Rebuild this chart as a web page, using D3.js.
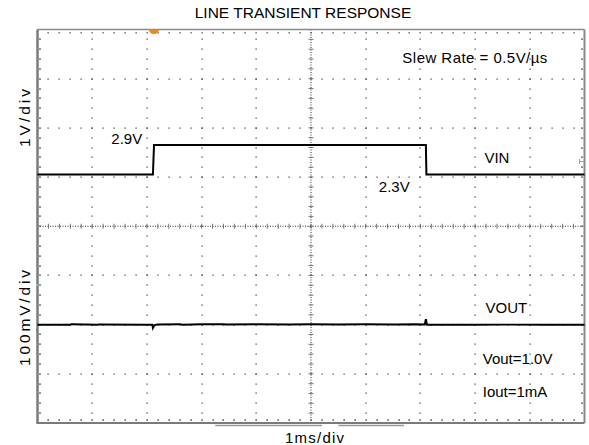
<!DOCTYPE html>
<html>
<head>
<meta charset="utf-8">
<script src="https://cdn.jsdelivr.net/npm/d3@7"></script>
<style>
  body { margin: 0; background: #fff; }
  text { font-family: "Liberation Sans", Arial, sans-serif; fill: #000; }
</style>
</head>
<body>
<script>
// waveform data (time in ms, 1ms/div, 10 divisions)
var vinTime = [0, 2.11, 2.13, 7.10, 7.11, 10];
var vinVolts = [2.3, 2.3, 2.9, 2.9, 2.3, 2.3];

var voutTime = [0, 0.6, 0.62, 1.1, 1.12, 2.0, 2.1, 2.11, 2.14, 2.2, 2.6, 2.65, 3.0, 3.4, 3.45, 4.0, 4.6, 5.0, 5.5, 6.0, 6.5, 6.9, 7.08, 7.1, 7.12, 7.2, 8.0, 8.5, 9.3, 10];
var voutVolts = [1.0, 1.0, 1.001, 1.0, 1.0005, 1.0, 1.0, 0.993, 0.999, 1.0005, 1.001, 1.0, 1.001, 1.001, 1.0005, 1.001, 1.0005, 1.001, 1.0005, 1.001, 1.0005, 1.001, 1.0005, 1.011, 1.0, 1.0, 0.9995, 1.0, 1.0, 1.0];

var labels = [
  { text: '2.9V', t: 1.35, y: 144 },
  { text: '2.3V', t: 6.24, y: 191.7 },
  { text: 'VIN', t: 8.17, y: 162.7 },
  { text: 'Slew Rate = 0.5V/µs', t: 6.67, y: 63, len: 145 },
  { text: 'VOUT', t: 8.19, y: 313.3 },
  { text: 'Vout=1.0V', t: 8.14, y: 364.3 },
  { text: 'Iout=1mA', t: 8.14, y: 397.3 }
];

var width = 589, height = 445;
var pLeft = 37.5, pRight = 584.5, pTop = 29.5, pBottom = 423;
var xDivs = 10, yDivs = 8, sub = 5;

var svg = d3.select('body').append('svg')
  .attr('width', width)
  .attr('height', height);

var x = d3.scaleLinear().domain([0, 10]).range([pLeft, pRight]);
var yVin = d3.scaleLinear().domain([-2.75, 5.25]).range([pBottom, pTop]);
var yVout = d3.scaleLinear().domain([0.8, 1.6]).range([pBottom, pTop]);
var gx = d3.scaleLinear().domain([0, xDivs]).range([pLeft, pRight]);
var gy = d3.scaleLinear().domain([0, yDivs]).range([pTop, pBottom]);

var grid = svg.append('g');

// dotted graticule: one dot per subdivision
d3.range(1, xDivs).filter(function(i) { return i !== 5; }).forEach(function(i) {
  grid.selectAll(null).data(d3.range(1, yDivs * sub)).enter().append('rect')
    .attr('x', Math.round(gx(i)) - 0.5).attr('y', function(d) { return Math.round(gy(d / sub)) - 0.5; })
    .attr('width', 1.2).attr('height', 1.2).attr('fill', '#333');
});
d3.range(1, yDivs).filter(function(j) { return j !== 4; }).forEach(function(j) {
  grid.selectAll(null).data(d3.range(1, xDivs * sub)).enter().append('rect')
    .attr('x', function(d) { return Math.round(gx(d / sub)) - 0.5; }).attr('y', Math.round(gy(j)) - 0.5)
    .attr('width', 1.2).attr('height', 1.2).attr('fill', '#333');
});

// center cross with ticks
grid.append('line')
  .attr('x1', pLeft).attr('x2', pRight).attr('y1', gy(4)).attr('y2', gy(4))
  .attr('stroke', '#333').attr('stroke-width', 1).attr('stroke-dasharray', '1,1.5');
grid.append('line')
  .attr('x1', gx(5)).attr('x2', gx(5)).attr('y1', pTop).attr('y2', pBottom)
  .attr('stroke', '#333').attr('stroke-width', 1).attr('stroke-dasharray', '1,1.5');
grid.selectAll(null).data(d3.range(1, xDivs * sub)).enter().append('line')
  .attr('x1', function(d) { return gx(d / sub); }).attr('x2', function(d) { return gx(d / sub); })
  .attr('y1', gy(4) - 2.5).attr('y2', gy(4) + 2.5)
  .attr('stroke', '#555').attr('stroke-width', 0.8);
grid.selectAll(null).data(d3.range(1, yDivs * sub)).enter().append('line')
  .attr('y1', function(d) { return gy(d / sub); }).attr('y2', function(d) { return gy(d / sub); })
  .attr('x1', gx(5) - 2.5).attr('x2', gx(5) + 2.5)
  .attr('stroke', '#555').attr('stroke-width', 0.8);

// border ticks
grid.selectAll(null).data(d3.range(1, xDivs * sub)).enter().append('rect')
  .attr('x', function(d) { return Math.round(gx(d / sub)) - 0.5; }).attr('y', pTop + 2.5)
  .attr('width', 1.2).attr('height', 1.5).attr('fill', '#555');
grid.selectAll(null).data(d3.range(1, xDivs * sub)).enter().append('rect')
  .attr('x', function(d) { return Math.round(gx(d / sub)) - 0.5; }).attr('y', pBottom - 4)
  .attr('width', 1.2).attr('height', 2).attr('fill', '#555');
grid.selectAll(null).data(d3.range(1, yDivs * sub)).enter().append('rect')
  .attr('x', pLeft + 1.5).attr('y', function(d) { return Math.round(gy(d / sub)) - 0.5; })
  .attr('width', 2).attr('height', 1.2).attr('fill', '#555');
grid.selectAll(null).data(d3.range(1, yDivs * sub)).enter().append('rect')
  .attr('x', pRight - 3.5).attr('y', function(d) { return Math.round(gy(d / sub)) - 0.5; })
  .attr('width', 2).attr('height', 1.2).attr('fill', '#555');

// frame
svg.append('line').attr('x1', pLeft).attr('x2', pRight).attr('y1', pTop).attr('y2', pTop)
  .attr('stroke', '#8a8a8a').attr('stroke-width', 1.5);
svg.append('line').attr('x1', pRight).attr('x2', pRight).attr('y1', pTop).attr('y2', pBottom)
  .attr('stroke', '#8a8a8a').attr('stroke-width', 2);
svg.append('line').attr('x1', pLeft).attr('x2', pLeft).attr('y1', pTop).attr('y2', pBottom + 1)
  .attr('stroke', '#7a7a7a').attr('stroke-width', 2.5);
svg.append('line').attr('x1', pLeft).attr('x2', pRight).attr('y1', pBottom).attr('y2', pBottom)
  .attr('stroke', '#7a7a7a').attr('stroke-width', 2);

// position bar under the frame
[[3.25, 5.2], [5.5, 6.7]].forEach(function(seg) {
  svg.append('line').attr('x1', x(seg[0])).attr('x2', x(seg[1]))
    .attr('y1', pBottom + 2.5).attr('y2', pBottom + 2.5)
    .attr('stroke', '#9a9a9a').attr('stroke-width', 1.5);
});

// channel / trigger markers
svg.append('path')
  .attr('d', 'M' + (x(2.13) - 5) + ',' + pTop + ' A5,4.5 0 0 0 ' + (x(2.13) + 5) + ',' + pTop + ' Z')
  .attr('fill', '#f0871e');
svg.append('path')
  .attr('d', 'M' + (pRight - 5) + ',161.5 H' + pRight + ' M' + (pRight - 5) + ',159 V164')
  .attr('stroke', '#5ab4b4').attr('stroke-width', 1).attr('fill', 'none');
svg.append('rect').attr('x', pLeft - 1.5).attr('y', 284).attr('width', 2).attr('height', 2).attr('fill', '#6cc');
svg.append('rect').attr('x', pLeft - 1.5).attr('y', 329).attr('width', 2).attr('height', 2).attr('fill', '#3a3');

// traces
var vinLine = d3.line().x(function(d) { return x(d[0]); }).y(function(d) { return yVin(d[1]); });
var voutLine = d3.line().x(function(d) { return x(d[0]); }).y(function(d) { return yVout(d[1]); });

svg.append('path')
  .attr('d', vinLine(d3.zip(vinTime, vinVolts)))
  .attr('fill', 'none').attr('stroke', '#000').attr('stroke-width', 2);
svg.append('path')
  .attr('d', voutLine(d3.zip(voutTime, voutVolts)))
  .attr('fill', 'none').attr('stroke', '#000').attr('stroke-width', 2);

// texts
svg.append('text').attr('x', 303).attr('y', 18.3).attr('text-anchor', 'middle')
  .style('font-size', '15.5px').text('LINE TRANSIENT RESPONSE');
svg.append('text').attr('x', 314.5).attr('y', 443).attr('text-anchor', 'middle')
  .attr('textLength', 59).style('font-size', '15px').text('1ms/div');
svg.append('text').attr('transform', 'translate(29.5,118) rotate(-90)').attr('text-anchor', 'middle')
  .attr('textLength', 58).style('font-size', '15.5px').text('1V/div');
svg.append('text').attr('transform', 'translate(29.5,318) rotate(-90)').attr('text-anchor', 'middle')
  .attr('textLength', 96).style('font-size', '15.5px').text('100mV/div');

svg.selectAll('text.lbl').data(labels).enter().append('text')
  .attr('class', 'lbl')
  .attr('x', function(d) { return x(d.t); })
  .attr('y', function(d) { return d.y; })
  .attr('textLength', function(d) { return d.len || null; })
  .style('font-size', '15px')
  .text(function(d) { return d.text; });
</script>
</body>
</html>
